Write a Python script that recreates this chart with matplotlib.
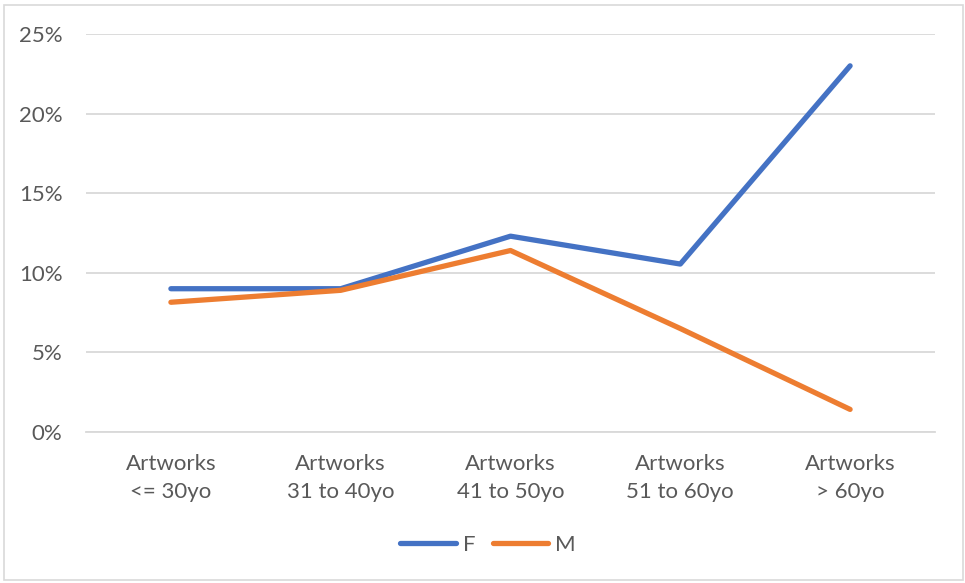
import matplotlib
matplotlib.use("Agg")
import matplotlib.pyplot as plt
from matplotlib.ticker import PercentFormatter
from matplotlib.patches import Rectangle

categories = ["Artworks\n<= 30yo", "Artworks\n31 to 40yo", "Artworks\n41 to 50yo",
              "Artworks\n51 to 60yo", "Artworks\n> 60yo"]
f_values = [0.090, 0.090, 0.123, 0.1055, 0.230]
m_values = [0.0815, 0.089, 0.114, 0.065, 0.0142]
y_ticks = [0, 0.05, 0.10, 0.15, 0.20, 0.25]

plt.rcParams['font.family'] = ['Lato', 'DejaVu Sans']
text_color = "#595959"
grid_color = "#D9D9D9"

fig = plt.figure(figsize=(9.65, 5.83), dpi=100)
ax = fig.add_axes([86/965, 1-432/583, (935-86)/965, (432-34)/583])

x = list(range(len(categories)))
ax.plot(x, f_values, color="#4472C4", lw=3.8, solid_capstyle="round", solid_joinstyle="round", label="F", zorder=3)
ax.plot(x, m_values, color="#ED7D31", lw=3.8, solid_capstyle="round", solid_joinstyle="round", label="M", zorder=3)

ax.set_xlim(-0.5, len(categories) - 0.5)
ax.set_ylim(0, 0.25)
ax.set_yticks(y_ticks)
ax.yaxis.set_major_formatter(PercentFormatter(1.0, decimals=0))
ax.set_xticks(x)
ax.set_xticklabels(categories, linespacing=1.5)
ax.grid(axis="y", color=grid_color, lw=1.3)
ax.set_axisbelow(True)
for s in ["top", "right", "left"]:
    ax.spines[s].set_visible(False)
ax.spines["bottom"].set_color(grid_color)
ax.spines["bottom"].set_linewidth(1.3)
ax.tick_params(axis="both", length=0, labelsize=16, colors=text_color)
ax.tick_params(axis="y", pad=17)
ax.tick_params(axis="x", pad=16)

leg = fig.legend(loc="center", bbox_to_anchor=(488/965, 1-545/583), ncol=2, frameon=False,
                 fontsize=16, handlelength=2.5, handletextpad=0.3, columnspacing=0.8, labelcolor=text_color)

fig.patches.append(Rectangle((4/965, 3/583), 959/965, 575/583, transform=fig.transFigure,
                             fill=False, edgecolor=grid_color, lw=1.2))

fig.savefig("out.png", dpi=100, facecolor="white")
